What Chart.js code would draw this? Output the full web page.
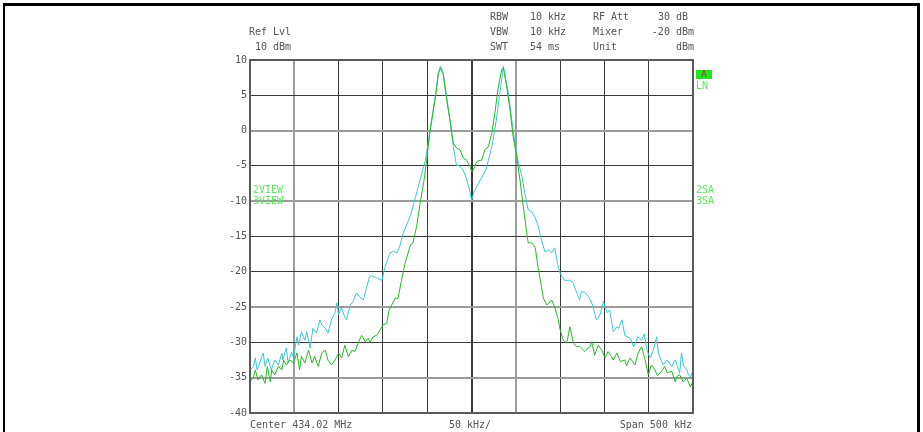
<!DOCTYPE html>
<html>
<head>
<meta charset="utf-8">
<script src="https://cdn.jsdelivr.net/npm/chart.js@4.4.1/dist/chart.umd.min.js"></script>
<style>
  html, body { margin: 0; padding: 0; background: #fff; }
  #wrap { position: relative; width: 923px; height: 432px; overflow: hidden; }
  #frame { position: absolute; left: 3px; top: 3px; width: 912px; height: 440px;
           border-top: 3px solid #000; border-left: 2px solid #000; border-right: 3px solid #000; }
  .t { position: absolute; font-family: "DejaVu Sans Mono", monospace; font-size: 10px;
       color: #555; white-space: pre; line-height: 10px; }
  .g { color: #5ee85e; }
  #mk { position: absolute; left: 696px; top: 70px; width: 16px; height: 9px; background: #1ee81e;
        font-family: "DejaVu Sans Mono", monospace; font-size: 9px; line-height: 9px;
        color: #b03020; text-align: center; }
  canvas { position: absolute; left: 0; top: 0; }
</style>
</head>
<body>
<div id="wrap">
  <canvas id="spec" width="923" height="432"></canvas>
  <div id="frame"></div>

  <div class="t" style="left:249px; top:27px">Ref Lvl</div>
  <div class="t" style="left:255px; top:42px">10 dBm</div>

  <div class="t" style="left:490px; top:12px">RBW</div>
  <div class="t" style="left:490px; top:27px">VBW</div>
  <div class="t" style="left:490px; top:42px">SWT</div>
  <div class="t" style="left:530px; top:12px">10 kHz</div>
  <div class="t" style="left:530px; top:27px">10 kHz</div>
  <div class="t" style="left:530px; top:42px">54 ms</div>
  <div class="t" style="left:593px; top:12px">RF Att</div>
  <div class="t" style="left:593px; top:27px">Mixer</div>
  <div class="t" style="left:593px; top:42px">Unit</div>
  <div class="t" style="right:229px; top:12px">30 dB </div>
  <div class="t" style="right:229px; top:27px">-20 dBm</div>
  <div class="t" style="right:229px; top:42px">dBm</div>

  <div class="t g" style="left:253px; top:185px">2VIEW</div>
  <div class="t g" style="left:253px; top:196px">3VIEW</div>
  <div id="mk">A</div>
  <div class="t g" style="left:696px; top:81px">LN</div>
  <div class="t g" style="left:696px; top:185px">2SA</div>
  <div class="t g" style="left:696px; top:196px">3SA</div>

  <div class="t" style="left:250px; top:420px">Center 434.02 MHz</div>
  <div class="t" style="left:449px; top:420px">50 kHz/</div>
  <div class="t" style="right:231px; top:420px">Span 500 kHz</div>
</div>

<script>
// offset from centre (kHz) and level (dBm)
const cyanFreq = [-250, -246, -244, -242, -239, -235, -233, -230, -226, -222, -218, -214, -213, -209, -207, -203,
  -201, -197, -195, -192, -188, -186, -182, -179, -175, -171, -169, -165, -162, -158, -154, -152, -150, -147, -143,
  -141, -137, -134, -130, -126, -122, -119, -115, -113, -107, -101, -98, -92, -88, -84, -81, -77, -71, -68, -64,
  -60, -56, -52, -49, -45, -41, -37.5, -35, -32, -28, -24, -20.5, -17, -14, -11, -8, -5.4, -1.7, 0.2,
  3, 5.9, 11.5, 17, 19, 23, 28, 32, 36, 41.5, 45, 49, 53, 57, 60, 64, 68, 72, 75, 79, 83, 87, 90.5, 94, 97, 100,
  105, 111, 115, 117, 119, 122, 124, 128, 132, 136, 141, 145, 149, 153, 156, 160, 164, 166, 170, 173, 179, 183,
  188, 192, 195, 198, 201.5, 205, 209, 211, 213, 216.5, 221, 226, 230, 232, 235, 237, 239, 243, 245, 247, 250];
const cyanLevel = [-33.9, -33.4, -32.2, -33.9, -32.9, -31.5, -33.4, -32.2, -33.9, -32.5, -33.2, -31.5, -32.5, -30.8, -32.9, -31.4,
  -32.2, -29.2, -30.4, -28.5, -29.7, -28.5, -30.8, -28.0, -28.7, -26.8, -27.5, -28.0, -28.7, -26.8, -25.8, -24.4, -26.1, -25.0, -26.4,
  -26.8, -24.7, -24.3, -23.0, -23.6, -24.0, -22.5, -20.7, -20.5, -20.9, -21.2, -19.5, -17.3, -17.1, -17.3, -16.4, -14.5, -12.7, -11.7, -9.8,
  -7.9, -6.0, -4.2, -1.8, 1.5, 4.8, 8.2, 9.1, 8.2, 4.8, 1.1, -2.3, -4.9, -5.0, -5.3, -6.0, -6.9, -8.7, -9.9,
  -8.6, -7.9, -6.7, -5.3, -4.2, -2.3, 1.5, 5.3, 9.1, 5.3, 2.0, -1.8, -4.6, -6.5, -8.8, -11.2, -11.5, -12.4, -13.4, -15.5, -17.2, -16.9, -17.3, -16.6, -18.8, -20.2,
  -21.2, -21.2, -21.6, -22.4, -23.0, -24.0, -22.8, -22.9, -23.5, -24.5, -26.8, -26.1, -24.2, -25.8, -25.4, -28.5, -27.8, -28.0, -26.8, -29.0, -29.4, -30.6,
  -29.2, -29.7, -28.8, -31.1, -32.2, -31.2, -29.2, -31.5, -32.2, -33.2, -32.5, -33.4, -32.5, -33.2, -34.3, -31.5, -33.2, -33.9, -34.6, -34.9, -34.0];

const greenFreq = [-250, -246, -244, -241, -237, -233, -230.5, -227, -225.5, -222, -218, -214, -212, -209, -205, -201,
  -197, -194, -192, -188, -184, -180, -177, -173, -169, -165, -162, -158, -154, -150, -146.5, -143, -139, -135, -131.5,
  -128, -124, -120, -116.5, -114.6, -111, -107, -103, -99.6, -95.7, -93, -90, -86, -83, -79, -75, -69, -66, -62, -58,
  -54, -50.6, -47, -43, -40, -37.5, -35, -32, -28, -24.3, -20.5, -16.7, -13, -9.3, -5.4, -1.7, 0.2, 2, 5.9, 9.6,
  11.5, 15, 19, 23, 26.5, 30, 34, 36, 39.7, 43.5, 47, 51, 54.7, 58.5, 62, 64, 68, 72, 75, 79, 81, 85, 90.5, 94, 98,
  100, 103.6, 107.5, 111, 115, 119, 122.5, 124, 128, 130, 134, 135.7, 139, 143, 147, 150.7, 154, 158, 160, 164, 168,
  173, 175, 179, 184.5, 188, 192, 196, 199.6, 203, 207, 210, 215, 218, 221, 226, 230, 232, 235, 239, 243, 247, 250];
const greenLevel = [-35.6, -34.9, -33.9, -35.3, -34.6, -35.8, -33.4, -35.6, -33.9, -34.6, -33.4, -33.9, -32.5, -33.2, -32.5, -32.9,
  -31.5, -33.9, -32.0, -32.9, -31.1, -32.9, -32.0, -33.4, -31.5, -31.1, -32.5, -33.2, -32.5, -31.5, -32.2, -30.4, -32.0, -31.1, -31.3,
  -30.1, -29.0, -29.9, -29.4, -30.0, -29.2, -29.0, -28.2, -27.5, -27.3, -25.4, -24.7, -23.7, -23.8, -21.2, -18.8, -16.2, -15.9, -13.6, -10.3,
  -7.4, -4.2, -0.3, 2.9, 5.3, 7.9, 8.9, 8.0, 4.3, 1.5, -1.8, -2.5, -2.7, -3.9, -4.2, -5.1, -5.8, -5.6, -4.4, -4.2,
  -4.2, -2.7, -2.3, -0.3, 2.6, 6.0, 8.6, 8.9, 6.2, 2.9, -0.9, -3.7, -7.0, -10.8, -14.1, -15.9, -15.9, -16.6, -19.3, -22.1, -23.7, -24.7, -24.0, -25.0, -26.8,
  -28.2, -29.7, -30.1, -27.8, -30.1, -30.6, -30.6, -30.8, -31.3, -31.0, -30.6, -29.9, -31.8, -30.4, -31.1, -32.2, -31.3, -32.0, -32.5, -31.5, -32.7,
  -32.5, -33.3, -32.2, -33.2, -31.5, -30.6, -32.5, -34.6, -33.2, -33.9, -34.7, -34.0, -33.4, -34.3, -34.1, -35.6, -34.8, -34.6, -35.6, -35.1, -36.3, -35.5];

const levelTicks = [10, 5, 0, -5, -10, -15, -20, -25, -30, -35, -40];

// lines that come out softer on the original screen dump
const softLevels = [0, -10, -25, -35];
const softFreqs = [-200, 50];

const toPoints = (xs, ys) => xs.map((x, i) => ({ x: x, y: ys[i] }));

const frame = {
  id: 'frame',
  afterDatasetsDraw(chart) {
    const a = chart.chartArea;
    const c = chart.ctx;
    c.save();
    c.strokeStyle = '#5a5a5a';
    c.lineWidth = 2;
    c.strokeRect(a.left, a.top, a.right - a.left, a.bottom - a.top);
    c.restore();
  }
};

const monoFont = { family: 'DejaVu Sans Mono', size: 10 };

new Chart(document.getElementById('spec'), {
  type: 'line',
  data: {
    datasets: [
      { data: toPoints(greenFreq, greenLevel), borderColor: '#27b827', borderWidth: 1 },
      { data: toPoints(cyanFreq, cyanLevel), borderColor: '#3cc8d0', borderWidth: 1 }
    ]
  },
  options: {
    responsive: false,
    animation: false,
    devicePixelRatio: 1,
    parsing: false,
    layout: { padding: { left: 220, right: 230, top: 60, bottom: 19 } },
    elements: { point: { radius: 0 }, line: { tension: 0 } },
    plugins: { legend: { display: false }, tooltip: { enabled: false } },
    scales: {
      x: {
        type: 'linear', min: -250, max: 250,
        afterFit: s => { s.height = 0 },
        ticks: { display: false, stepSize: 50 },
        border: { display: false },
        grid: {
          drawTicks: false,
          color: c => softFreqs.includes(c.tick.value) ? '#9c9c9c' : '#3a3a3a',
          lineWidth: c => (c.tick.value === 0 || softFreqs.includes(c.tick.value)) ? 2 : 1
        }
      },
      y: {
        min: -40, max: 10,
        afterFit: s => { s.width = 30 },
        afterBuildTicks: s => { s.ticks = levelTicks.map(v => ({ value: v })) },
        ticks: { color: '#555', font: monoFont, padding: 3, callback: v => String(v) },
        border: { display: false },
        grid: {
          drawTicks: false,
          color: c => softLevels.includes(c.tick.value) ? '#9c9c9c' : '#3a3a3a',
          lineWidth: c => softLevels.includes(c.tick.value) ? 2 : 1
        }
      }
    }
  },
  plugins: [frame]
});
</script>
</body>
</html>
